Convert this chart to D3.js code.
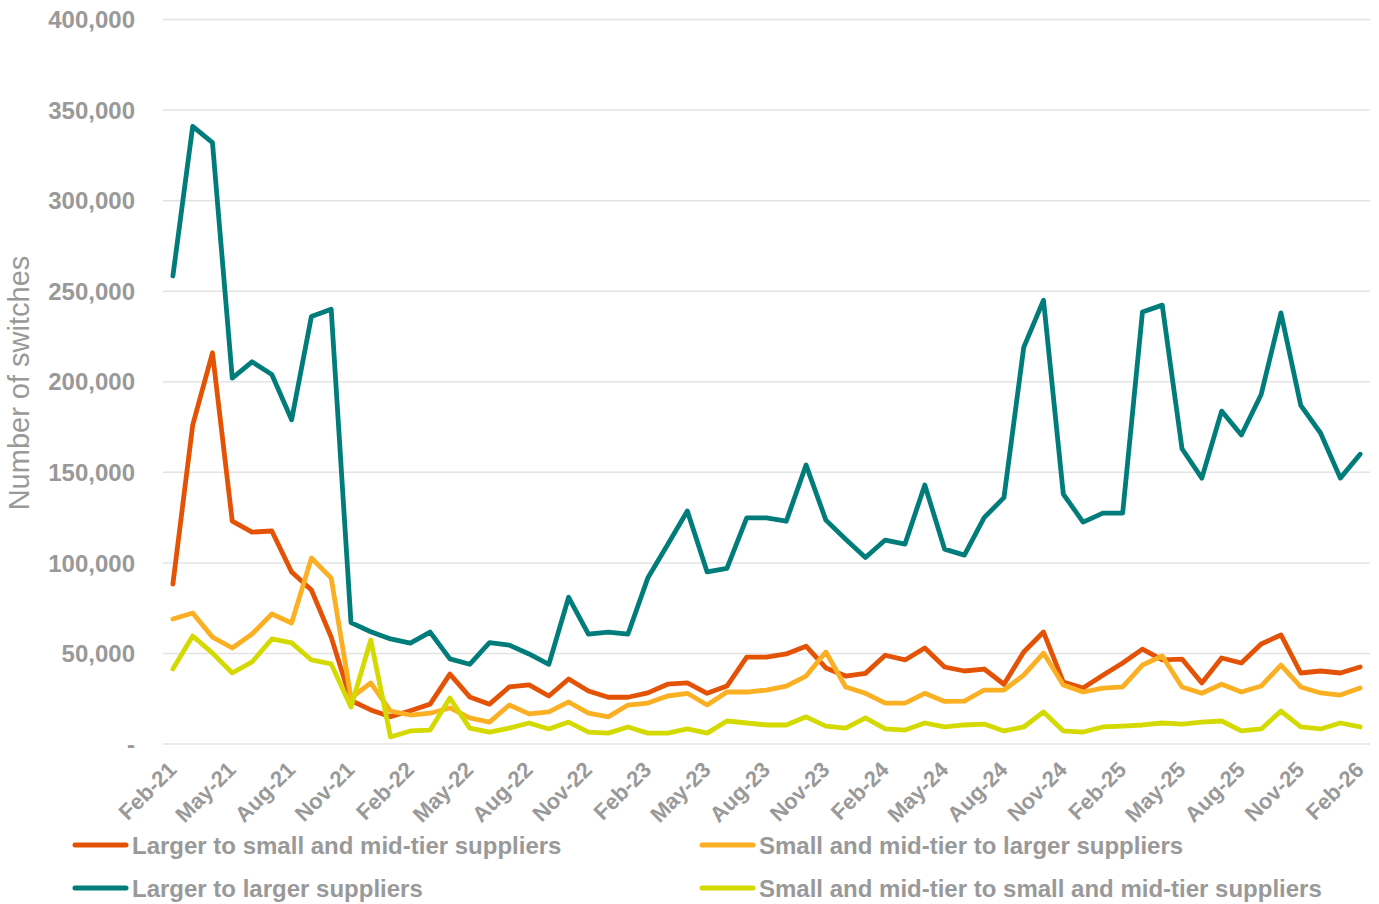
<!DOCTYPE html>
<html>
<head>
<meta charset="utf-8">
<script src="https://cdn.jsdelivr.net/npm/d3@7"></script>
<style>
  body { margin: 0; background: #fff; }
  svg { display: block; font-family: "Liberation Sans", Arial, sans-serif; }
</style>
</head>
<body>
<div id="chart"></div>
<script>
// ─────────────────────────────────────────
// Monthly supplier switches, Feb-21 to Feb-26
// ─────────────────────────────────────────

const months = [
  'Feb-21','Mar-21','Apr-21','May-21','Jun-21','Jul-21','Aug-21','Sep-21','Oct-21','Nov-21','Dec-21','Jan-22',
  'Feb-22','Mar-22','Apr-22','May-22','Jun-22','Jul-22','Aug-22','Sep-22','Oct-22','Nov-22','Dec-22','Jan-23',
  'Feb-23','Mar-23','Apr-23','May-23','Jun-23','Jul-23','Aug-23','Sep-23','Oct-23','Nov-23','Dec-23','Jan-24',
  'Feb-24','Mar-24','Apr-24','May-24','Jun-24','Jul-24','Aug-24','Sep-24','Oct-24','Nov-24','Dec-24','Jan-25',
  'Feb-25','Mar-25','Apr-25','May-25','Jun-25','Jul-25','Aug-25','Sep-25','Oct-25','Nov-25','Dec-25','Jan-26',
  'Feb-26'
];

// every third month is labelled
const tickLabels = [
  'Feb-21','May-21','Aug-21','Nov-21','Feb-22','May-22','Aug-22','Nov-22','Feb-23','May-23','Aug-23',
  'Nov-23','Feb-24','May-24','Aug-24','Nov-24','Feb-25','May-25','Aug-25','Nov-25','Feb-26'
];

const yTicks = [0, 50000, 100000, 150000, 200000, 250000, 300000, 350000, 400000];

const largerToSmall = [
  88300, 176000, 216000, 123000, 117000, 117600, 95000, 85000, 59000, 24000, 18800, 15000,
  18400, 22000, 38600, 26000, 22000, 31500, 32600, 26500, 35900, 29300, 25800, 25800,
  28200, 33000, 33700, 28000, 32000, 48000, 48000, 49700, 54000, 42000, 37500, 39000,
  49000, 46400, 53000, 42500, 40300, 41400, 33000, 50800, 61800, 34200, 30900, 38000,
  44700, 52400, 46400, 46900, 33700, 47500, 44700, 55200, 60200, 39200, 40300, 39200,
  42500
];

const smallToLarger = [
  69000, 72300, 59000, 53000, 60700, 71800, 66800, 102700, 91600, 25400, 33700, 18200,
  16000, 17000, 19900, 14400, 12100, 21500, 16600, 17700, 23200, 17000, 15000, 21500,
  22600, 26500, 28000, 21500, 28700, 28700, 29800, 32000, 37500, 50800, 31500, 28000,
  22600, 22600, 28000, 23500, 23700, 29800, 29800, 38000, 50200, 32600, 28700, 30900,
  31500, 43600, 48600, 31500, 28000, 33000, 28700, 32000, 43600, 31500, 28200, 27000,
  30900
];

const largerToLarger = [
  258400, 341000, 332000, 202000, 211000, 204000, 179000, 236000, 240000, 67000, 62000, 58000,
  55700, 61800, 47000, 44000, 56000, 54600, 49700, 44000, 81000, 60700, 61800, 60700,
  91600, 110000, 128600, 95000, 97000, 124800, 124800, 123000, 154000, 123600, 113000, 103000,
  112600, 110400, 143000, 107600, 104300, 125000, 136000, 219000, 245000, 138000, 122500, 127500,
  127500, 238500, 242300, 163000, 146800, 183800, 170600, 193000, 238000, 187000, 171700, 146800,
  160000
];

const smallToSmall = [
  41400, 59600, 50200, 39200, 45300, 58000, 55800, 46400, 44200, 20400, 57400, 3900,
  7200, 7700, 25400, 8800, 6600, 8800, 11600, 8300, 12100, 6600, 6000, 9400,
  6000, 6000, 8300, 6000, 12700, 11600, 10500, 10500, 15000, 9900, 8800, 14400,
  8300, 7700, 11600, 9400, 10500, 11000, 7200, 9400, 17700, 7200, 6600, 9400,
  9900, 10500, 11600, 11000, 12100, 12700, 7200, 8300, 18200, 9400, 8300, 11600,
  9400
];

const seriesNames = [
  'Larger to small and mid-tier suppliers',
  'Small and mid-tier to larger suppliers',
  'Larger to larger suppliers',
  'Small and mid-tier to small and mid-tier suppliers'
];
const seriesColors = ['#E35205', '#FBB023', '#007C7A', '#D4DA00'];

// draw order: teal first, then the smaller series on top
const series = [
  { name: seriesNames[2], color: seriesColors[2], values: largerToLarger },
  { name: seriesNames[0], color: seriesColors[0], values: largerToSmall },
  { name: seriesNames[1], color: seriesColors[1], values: smallToLarger },
  { name: seriesNames[3], color: seriesColors[3], values: smallToSmall }
];

const W = 1379, H = 904;
const plot = { left: 163, right: 1370, top: 19.5, bottom: 744 };
const grey = '#999999';

const svg = d3.select('#chart')
  .append('svg')
  .attr('width', W)
  .attr('height', H);

const x = d3.scalePoint()
  .domain(months)
  .range([plot.left, plot.right])
  .padding(0.5);

const y = d3.scaleLinear()
  .domain([0, 400000])
  .range([plot.bottom, plot.top]);

// 网格线
svg.append('g')
  .selectAll('line')
  .data(yTicks)
  .enter()
  .append('line')
  .attr('x1', plot.left)
  .attr('x2', plot.right)
  .attr('y1', d => y(d))
  .attr('y2', d => y(d))
  .attr('stroke', '#E3E3E3')
  .attr('stroke-width', 1.5);

// y axis labels
const fmt = d3.format(',');
svg.append('g')
  .selectAll('text')
  .data(yTicks)
  .enter()
  .append('text')
  .attr('x', 135)
  .attr('y', d => y(d))
  .attr('dy', '0.36em')
  .attr('text-anchor', 'end')
  .attr('font-size', '24px')
  .attr('font-weight', 'bold')
  .attr('fill', grey)
  .text(d => d === 0 ? '-' : fmt(d));

// axis title
svg.append('text')
  .attr('transform', 'translate(29,383) rotate(-90)')
  .attr('text-anchor', 'middle')
  .attr('font-size', '29px')
  .attr('fill', grey)
  .text('Number of switches');

// x axis labels, rotated
svg.append('g')
  .selectAll('text')
  .data(tickLabels)
  .enter()
  .append('text')
  .attr('transform', d => `translate(${x(d) + 5},771) rotate(-45)`)
  .attr('text-anchor', 'end')
  .attr('font-size', '22px')
  .attr('font-weight', 'bold')
  .attr('fill', grey)
  .text(d => d);

// lines
const line = d3.line()
  .x((d, i) => x(months[i]))
  .y(d => y(d));

svg.append('g')
  .selectAll('path')
  .data(series)
  .enter()
  .append('path')
  .attr('d', d => line(d.values))
  .attr('fill', 'none')
  .attr('stroke', d => d.color)
  .attr('stroke-width', 4.8)
  .attr('stroke-linejoin', 'round')
  .attr('stroke-linecap', 'round');

// legend: two rows, two columns
const legendItems = [
  { name: seriesNames[0], color: seriesColors[0], x: 73, y: 845 },
  { name: seriesNames[1], color: seriesColors[1], x: 700, y: 845 },
  { name: seriesNames[2], color: seriesColors[2], x: 73, y: 888 },
  { name: seriesNames[3], color: seriesColors[3], x: 700, y: 888 }
];

const lg = svg.append('g')
  .selectAll('g')
  .data(legendItems)
  .enter()
  .append('g')
  .attr('transform', d => `translate(${d.x},${d.y})`);

lg.append('line')
  .attr('x1', 2)
  .attr('x2', 53)
  .attr('stroke', d => d.color)
  .attr('stroke-width', 5)
  .attr('stroke-linecap', 'round');

lg.append('text')
  .attr('x', 59)
  .attr('dy', '0.36em')
  .attr('font-size', '24px')
  .attr('font-weight', 'bold')
  .attr('fill', grey)
  .text(d => d.name);
</script>
</body>
</html>
